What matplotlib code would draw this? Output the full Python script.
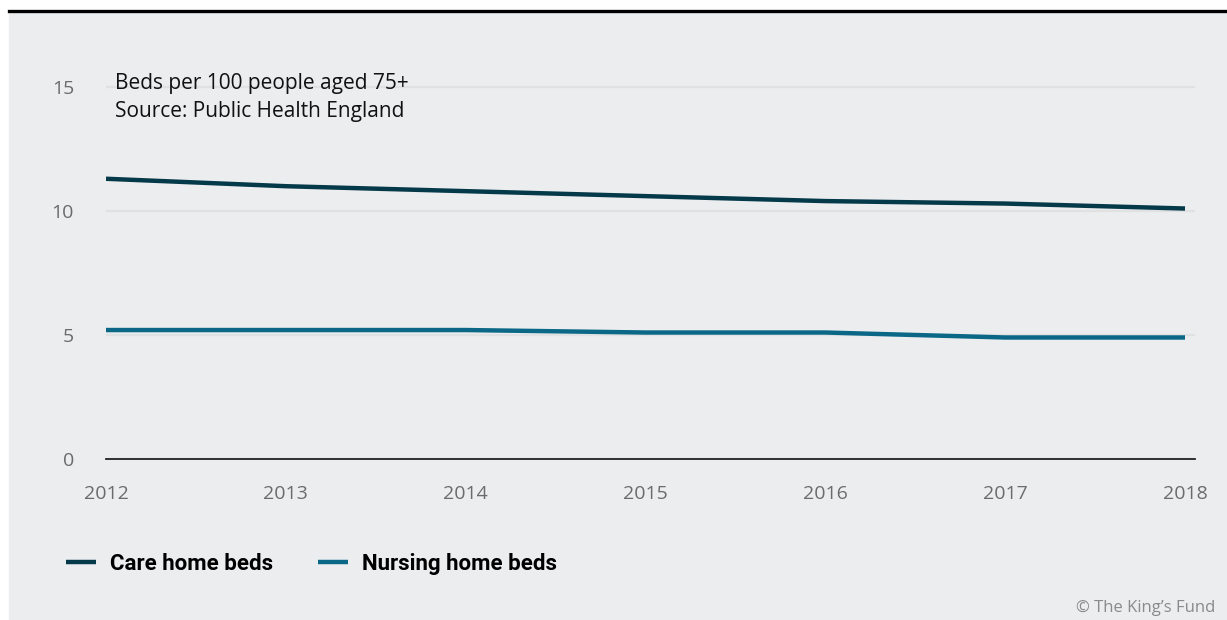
import matplotlib.pyplot as plt
from matplotlib.lines import Line2D

# Beds per 100 people aged 75+, England
years = [2012, 2013, 2014, 2015, 2016, 2017, 2018]
care_home = [11.3, 11.0, 10.8, 10.6, 10.4, 10.3, 10.1]
nursing_home = [5.2, 5.2, 5.2, 5.1, 5.1, 4.9, 4.9]
y_ticks = [0, 5, 10, 15]

care_color = '#04394A'
nursing_color = '#0A6886'
panel_color = '#ECEDEF'
grey_text = '#6B6B6B'

plt.rcParams['font.family'] = ['Open Sans', 'DejaVu Sans']

W, H = 1227, 620
fig = plt.figure(figsize=(W / 100, H / 100), dpi=100)
fig.patch.set_facecolor('white')

# grey panel with a black rule along the top
fig.patches.append(plt.Rectangle((9 / W, 0), 1 - 9 / W, 1 - 11 / H,
                                 transform=fig.transFigure, color=panel_color, zorder=-5))
fig.add_artist(Line2D([9 / W, 1], [1 - 10.5 / H] * 2, transform=fig.transFigure,
                      color='black', lw=2.4))

ax = fig.add_axes([106 / W, 1 - 459 / H, (1195 - 106) / W, (459 - 74.6) / H])
ax.set_facecolor('none')

ax.plot(years, care_home, color=care_color, lw=3.2, solid_capstyle='butt',
        label='Care home beds', zorder=3)
ax.plot(years, nursing_home, color=nursing_color, lw=3.2, solid_capstyle='butt',
        label='Nursing home beds', zorder=3)

ax.set_xlim(2012, 2018 + 10 / 1079 * 6)
ax.set_ylim(0, 15.5)
ax.set_yticks(y_ticks)
ax.set_xticks(years)
ax.set_xticklabels([str(y) for y in years])
ax.grid(axis='y', color='#E0E1E3', lw=1.6)
ax.set_axisbelow(True)
ax.tick_params(axis='both', length=0, labelsize=14, labelcolor=grey_text)
ax.tick_params(axis='y', pad=23)
ax.tick_params(axis='x', pad=19)
for side in ['top', 'right', 'left']:
    ax.spines[side].set_visible(False)
ax.spines['bottom'].set_color('#222222')
ax.spines['bottom'].set_linewidth(1.3)

# note in the top-left corner of the plot
for i, line in enumerate(['Beds per 100 people aged 75+', 'Source: Public Health England']):
    fig.text(115 / W, 1 - (83 + 28 * i) / H, line, fontsize=15, color='#111111',
             va='center')

fig.legend(loc='center left', bbox_to_anchor=(66 / W, 1 - 564 / H), ncol=2,
           frameon=False, borderpad=0, borderaxespad=0,
           handlelength=1.35, handletextpad=0.65, columnspacing=2.0,
           prop={'family': ['Roboto', 'DejaVu Sans'], 'weight': 'bold', 'size': 16})

fig.text(1215 / W, 1 - 608 / H, '\u00a9 The King\u2019s Fund', ha='right', va='center',
         fontsize=12, color='#8A8A8A')

fig.savefig('out.png', dpi=100, facecolor=fig.get_facecolor())
